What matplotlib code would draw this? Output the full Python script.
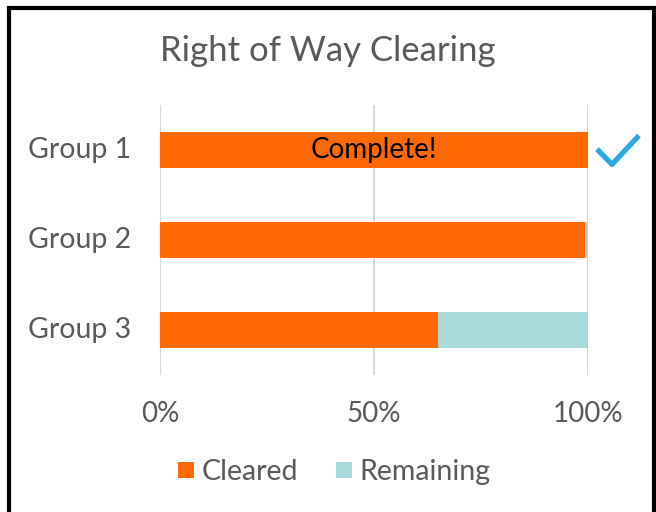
import matplotlib
matplotlib.use("Agg")
import matplotlib.pyplot as plt
from matplotlib.patches import Rectangle
from matplotlib.lines import Line2D

groups = ["Group 1", "Group 2", "Group 3"]
cleared = [1.00, 0.993, 0.65]
remaining = [0.00, 0.007, 0.35]
ticks = [0, 0.5, 1.0]
tick_labels = ["0%", "50%", "100%"]

plt.rcParams['font.family'] = ['Lato', 'DejaVu Sans']
grey = "#595959"
orange = "#ff6a00"
teal = "#a8dadc"

fig = plt.figure(figsize=(6.56, 5.12), dpi=100)
ax = fig.add_axes([160/656, 1 - 375/512, 428/656, 270/512])

y = list(range(len(groups)))
ax.barh(y, cleared, height=0.39, color=orange, label="Cleared", zorder=3)
ax.barh(y, remaining, left=cleared, height=0.39, color=teal, label="Remaining", zorder=3)

ax.set_xlim(0, 1)
ax.set_ylim(2.5, -0.5)
ax.set_xticks(ticks)
ax.set_xticklabels(tick_labels, fontsize=20, color=grey)
ax.set_yticks(y)
ax.set_yticklabels(groups, fontsize=20.5, color=grey, va="center")
ax.tick_params(length=0)
ax.tick_params(axis='y', pad=21)
ax.tick_params(axis='x', pad=19)
ax.grid(axis='x', color="#d9d9d9", linewidth=1.5, zorder=0)
for s in ax.spines.values():
    s.set_visible(False)

ax.text(0.5, 0, "Complete!", ha="center", va="center", fontsize=20, color="black", zorder=4)

# checkmark next to group 1
ax.add_line(Line2D([1.021, 1.056, 1.119], [-0.01, 0.16, -0.16], color="#29abe2",
                   linewidth=3.8, clip_on=False, solid_capstyle="butt"))

fig.text(0.5, 1 - 51/512, "Right of Way Clearing", ha="center", va="center",
         fontsize=25, color=grey)

fig.legend(loc="center", bbox_to_anchor=(0.51, 1 - 472/512), ncol=2, frameon=False,
           fontsize=20.5, labelcolor=grey, handlelength=0.53, handleheight=0.53,
           handletextpad=0.28, columnspacing=1.35)

fig.add_artist(Rectangle((8.5/656, -0.05), 645/656, 1 - 8/512 + 0.05, transform=fig.transFigure,
                         fill=False, edgecolor="black", linewidth=3))

fig.savefig("out.png", dpi=100)
